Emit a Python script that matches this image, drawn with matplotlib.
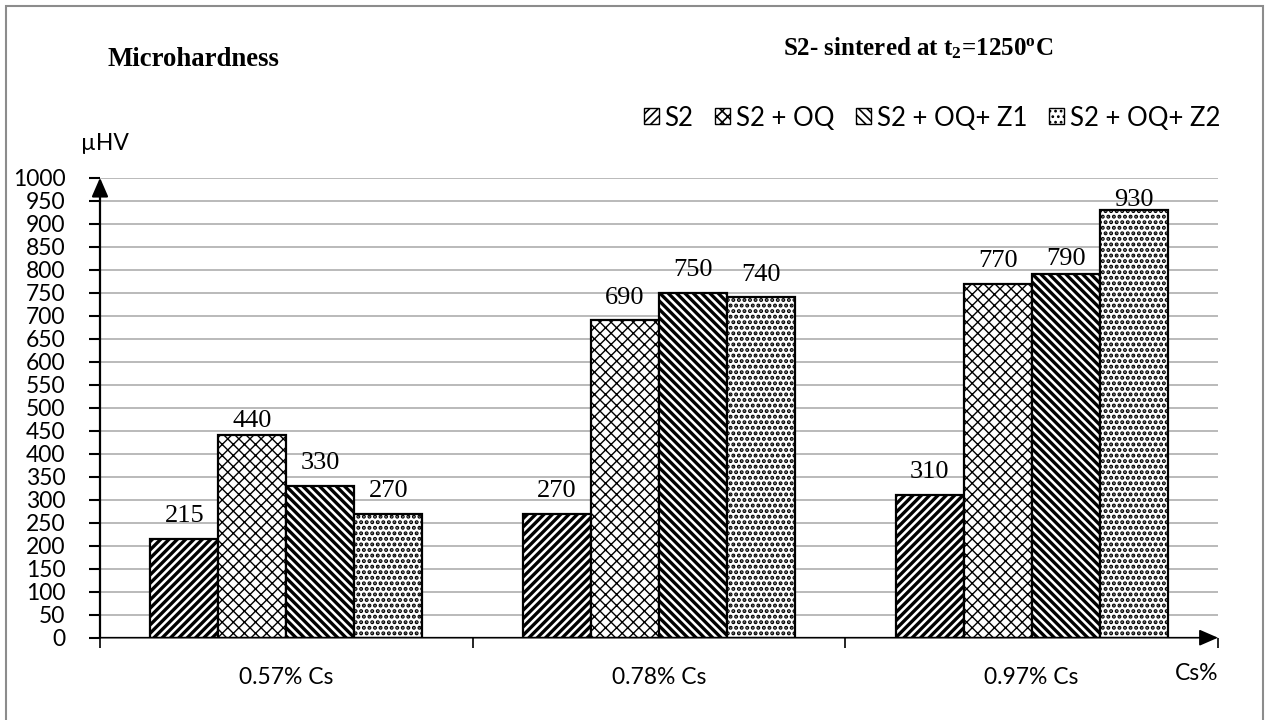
import matplotlib
matplotlib.use("Agg")
import matplotlib.pyplot as plt
import numpy as np
from matplotlib.patches import Rectangle, Patch

# ---- data ----
categories = ["0.57% Cs", "0.78% Cs", "0.97% Cs"]
series_names = ["S2", "S2 + OQ", "S2 + OQ+ Z1", "S2 + OQ+ Z2"]
s2 = [215, 270, 310]
s2_oq = [440, 690, 770]
s2_oq_z1 = [330, 750, 790]
s2_oq_z2 = [270, 740, 930]
series_values = [s2, s2_oq, s2_oq_z1, s2_oq_z2]
yticks = list(range(0, 1001, 50))

# ---- styles ----
hatches = ["////", "xxx", "\\\\\\\\", "..."]
hatch_widths = [2.4, 1.0, 2.4, 2.0]
# extra vertical nudge (points) for a few labels that sit lower
label_nudge = [[0, 0, 0], [-6, 0, 0], [0, 0, -5], [0, 0, -9]]

SANS = "Lato"
SERIF = "Liberation Serif"
plt.rcParams["mathtext.fontset"] = "custom"
plt.rcParams["mathtext.rm"] = "Liberation Serif:bold"

fig = plt.figure(figsize=(12.68, 7.20), dpi=100)
W, H = 1268, 720

# light frame around the figure
fig.patches.append(Rectangle((6 / W, -0.1), (1263 - 6) / W, 1 - 6 / H + 0.1,
                             transform=fig.transFigure, fill=False,
                             edgecolor="#8c8c8c", lw=1.5))

ax = fig.add_axes([100 / W, 1 - 637.7 / H, 1118 / W, 460 / H])
ax.set_xlim(-0.5, 2.5)
ax.set_ylim(0, 1000)

n = len(series_names)
bw = 0.1825
x = np.arange(len(categories))
for i, (vals, h) in enumerate(zip(series_values, hatches)):
    plt.rcParams["hatch.linewidth"] = hatch_widths[i]
    bars = ax.bar(x + (i - (n - 1) / 2) * bw, vals, width=bw, color="white",
                  edgecolor="black", hatch=h, linewidth=1.6, zorder=3,
                  label=series_names[i])
    for j, (b, v) in enumerate(zip(bars, vals)):
        ax.annotate(str(v), (b.get_x() + b.get_width() / 2, v),
                    xytext=(0, 12 + label_nudge[i][j]), textcoords="offset points",
                    ha="center", va="baseline", fontsize=19, family=SERIF,
                    zorder=5)

# gridlines
ax.set_yticks(yticks)
ax.yaxis.grid(True, color="#b4b4b4", lw=1.3, zorder=0)
ax.set_axisbelow(True)
ax.tick_params(axis="y", direction="out", length=8, width=1.5, pad=17,
               labelsize=16.5, labelfontfamily=SANS)

# category labels and boundary ticks
ax.set_xticks(x)
ax.set_xticklabels(categories, family=SANS, fontsize=16.5)
ax.tick_params(axis="x", which="major", length=0, pad=21)
ax.set_xticks([-0.5, 0.5, 1.5, 2.5], minor=True)
ax.tick_params(axis="x", which="minor", direction="out", length=7, width=1.2)

for s in ax.spines.values():
    s.set_visible(False)

# axis arrows
ax.annotate("", xy=(0, 1), xytext=(0, 0), xycoords="axes fraction",
            arrowprops=dict(arrowstyle="-|>,head_length=1.15,head_width=0.5",
                            color="black", lw=1.6, shrinkA=0, shrinkB=0),
            annotation_clip=False)
ax.annotate("", xy=(1, 0), xytext=(0, 0), xycoords="axes fraction",
            arrowprops=dict(arrowstyle="-|>,head_length=1.15,head_width=0.5",
                            color="black", lw=1.2, shrinkA=0, shrinkB=0),
            annotation_clip=False)

# texts
fig.text(107 / W, 1 - 59 / H, "Microhardness", family=SERIF, fontweight="bold",
         fontsize=19.3, va="center", ha="left")
fig.text(783 / W, 1 - 48 / H, r"S2- sintered at t$\mathrm{_2}$=1250$\mathrm{^o}$C",
         family=SERIF, fontweight="bold", fontsize=18, va="center", ha="left")
fig.text(105 / W, 1 - 143 / H, "µHV", family=SANS, fontsize=16.5,
         va="center", ha="center")
fig.text(1197 / W, 1 - 673 / H, "Cs%", family=SANS, fontsize=16.5,
         va="center", ha="center")

# legend
handles = []
for i in range(n):
    plt.rcParams["hatch.linewidth"] = hatch_widths[i] * 0.6
    handles.append(Patch(facecolor="white", edgecolor="black", hatch=hatches[i],
                         lw=1.0, label=series_names[i]))
fig.legend(handles=handles, loc="center right",
           bbox_to_anchor=(1220 / W, 1 - 118 / H), ncol=4, frameon=False,
           prop={"family": SANS, "size": 18.5}, handlelength=0.58,
           handleheight=0.58, handletextpad=0.22, columnspacing=0.85,
           borderpad=0, borderaxespad=0)

fig.savefig("out.png", dpi=100)
